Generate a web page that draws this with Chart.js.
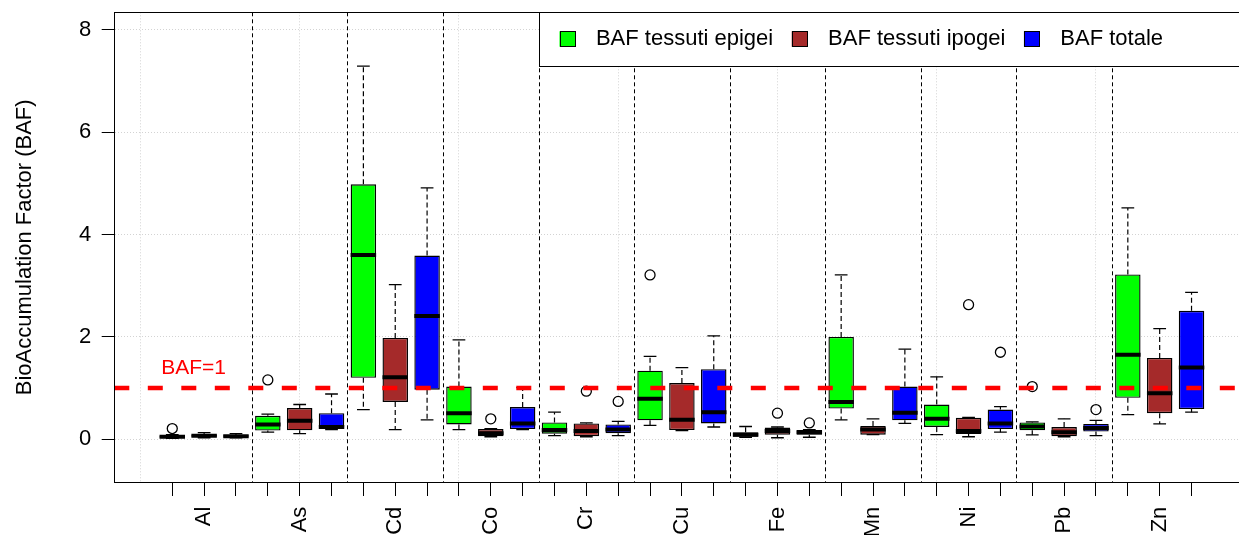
<!DOCTYPE html>
<html>
<head>
<meta charset="utf-8">
<script src="https://cdn.jsdelivr.net/npm/chart.js@4.4.1/dist/chart.umd.min.js"></script>
<style>
  html, body { margin: 0; padding: 0; background: #fff; overflow: hidden; width: 1239px; height: 535px; }
  #wrap { position: relative; width: 1260px; height: 535px; }
</style>
</head>
<body>
<div id="wrap"><canvas id="c" width="1260" height="535"></canvas></div>
<script>
// Metals analysed
const ELEMENTS = ['Al', 'As', 'Cd', 'Co', 'Cr', 'Cu', 'Fe', 'Mn', 'Ni', 'Pb', 'Zn'];
const SERIES_LABELS = ['BAF tessuti epigei', 'BAF tessuti ipogei', 'BAF totale'];
const SERIES_COLORS = ['#00FF00', '#A52A2A', '#0000FF'];

// Five-number summaries per metal: [lower whisker, Q1, median, Q3, upper whisker]
const EPIGEI = [
  [0.02, 0.03, 0.05, 0.07, 0.09],
  [0.14, 0.17, 0.29, 0.46, 0.49],
  [0.58, 1.20, 3.60, 4.98, 7.29],
  [0.19, 0.29, 0.51, 1.03, 1.94],
  [0.07, 0.11, 0.18, 0.33, 0.53],
  [0.27, 0.37, 0.79, 1.34, 1.62],
  [0.04, 0.05, 0.09, 0.14, 0.25],
  [0.38, 0.60, 0.73, 2.00, 3.21],
  [0.09, 0.24, 0.40, 0.68, 1.22],
  [0.085, 0.175, 0.25, 0.33, 0.34],
  [0.48, 0.81, 1.65, 3.22, 4.52]
];
const IPOGEI = [
  [0.03, 0.05, 0.07, 0.09, 0.13],
  [0.11, 0.175, 0.36, 0.61, 0.68],
  [0.19, 0.73, 1.21, 1.98, 3.02],
  [0.05, 0.06, 0.12, 0.20, 0.21],
  [0.05, 0.06, 0.16, 0.31, 0.32],
  [0.17, 0.18, 0.38, 1.10, 1.40],
  [0.03, 0.09, 0.16, 0.23, 0.24],
  [0.09, 0.09, 0.19, 0.26, 0.40],
  [0.05, 0.105, 0.16, 0.42, 0.43],
  [0.05, 0.06, 0.14, 0.24, 0.40],
  [0.30, 0.51, 0.90, 1.59, 2.16]
];
const TOTALE = [
  [0.03, 0.05, 0.06, 0.08, 0.11],
  [0.19, 0.23, 0.24, 0.51, 0.885],
  [0.38, 0.97, 2.41, 3.59, 4.91],
  [0.19, 0.20, 0.31, 0.63, 1.01],
  [0.07, 0.12, 0.19, 0.29, 0.35],
  [0.24, 0.31, 0.53, 1.37, 2.02],
  [0.04, 0.09, 0.14, 0.18, 0.19],
  [0.31, 0.37, 0.52, 1.03, 1.76],
  [0.14, 0.20, 0.31, 0.58, 0.64],
  [0.07, 0.15, 0.22, 0.30, 0.37],
  [0.53, 0.59, 1.40, 2.51, 2.87]
];

// Outlying observations per metal
const OUT_EPIGEI = [[0.21], [1.16], [], [], [], [3.21], [], [], [], [1.03], []];
const OUT_IPOGEI = [[], [], [], [0.40], [0.94], [], [0.51], [], [2.63], [], []];
const OUT_TOTALE = [[], [], [], [], [0.74], [], [0.32], [], [1.70], [0.58], []];

const Y_TICKS = [0, 2, 4, 6, 8];
const Y_LIMITS = [-0.5, 8];
const THRESHOLD = 1;
const THRESHOLD_TEXT = 'BAF=1';
const THRESHOLD_TEXT_AT = [1.67, 1.39];
const Y_TITLE = 'BioAccumulation Factor (BAF)';

// ---- derived layout helpers ----
const SUMMARIES = [EPIGEI, IPOGEI, TOTALE];
const OUTLIERS = [OUT_EPIGEI, OUT_IPOGEI, OUT_TOTALE];
const NS = SUMMARIES.length;
const NBOX = ELEMENTS.length * NS;
const pos = (g, s) => g * NS + s + 1;
// axes extended by 4% beyond the limits, like base R graphics
const X_MIN = 0.5 - 0.04 * NBOX;
const X_MAX = NBOX + 0.5 + 0.04 * NBOX;
const Y_SPAN = Y_LIMITS[1] - Y_LIMITS[0];
const Y_MIN = Y_LIMITS[0] - 0.04 * Y_SPAN;
const Y_MAX = Y_LIMITS[1] + 0.04 * Y_SPAN;
const BOX_HALF = 0.4;
const STAPLE_HALF = 0.2;

const FONT_FAMILY = '"Liberation Sans", Arial, Helvetica, sans-serif';
const TEXT_SIZE = 22;
Chart.defaults.font.family = FONT_FAMILY;
Chart.defaults.color = '#000';

const X_TICK_VALUES = [];
for (let v = 0; v <= NBOX; v++) X_TICK_VALUES.push(v);

function xLabel(v) {
  for (let g = 0; g < ELEMENTS.length; g++) if (pos(g, 1) === v) return ELEMENTS[g];
  return '';
}

// boxes
const boxSets = SUMMARIES.map((rows, s) => ({
  type: 'bar',
  label: SERIES_LABELS[s],
  data: rows.map((r, g) => ({ x: pos(g, s), y: [r[1], r[3]] })),
  backgroundColor: SERIES_COLORS[s],
  borderColor: '#000',
  borderWidth: 1.4,
  borderSkipped: false,
  grouped: false,
  barPercentage: 2 * BOX_HALF,
  categoryPercentage: 1,
  order: 5
}));

const whiskerPts = [], staplePts = [], medianPts = [], outlierPts = [];
ELEMENTS.forEach((el, g) => {
  SUMMARIES.forEach((rows, s) => {
    const r = rows[g];
    const x = pos(g, s);
    whiskerPts.push({ x, y: r[3] }, { x, y: r[4] }, { x, y: null },
                    { x, y: r[1] }, { x, y: r[0] }, { x, y: null });
    staplePts.push({ x: x - STAPLE_HALF, y: r[4] }, { x: x + STAPLE_HALF, y: r[4] }, { x, y: null },
                   { x: x - STAPLE_HALF, y: r[0] }, { x: x + STAPLE_HALF, y: r[0] }, { x, y: null });
    medianPts.push({ x: x - BOX_HALF, y: r[2] }, { x: x + BOX_HALF, y: r[2] }, { x, y: null });
    OUTLIERS[s][g].forEach(v => outlierPts.push({ x, y: v }));
  });
});

const lineBase = { type: 'line', pointRadius: 0, borderColor: '#000', fill: false, spanGaps: false, tension: 0 };

const datasets = [
  ...boxSets,
  Object.assign({}, lineBase, { label: 'whiskers', data: whiskerPts, borderWidth: 1.2, borderDash: [5, 3], order: 4 }),
  Object.assign({}, lineBase, { label: 'staples', data: staplePts, borderWidth: 1.3, order: 4 }),
  Object.assign({}, lineBase, { label: 'medians', data: medianPts, borderWidth: 4, borderCapStyle: 'butt', order: 3 }),
  { type: 'scatter', label: 'outliers', data: outlierPts, pointStyle: 'circle', pointRadius: 5,
    pointBackgroundColor: 'rgba(0,0,0,0)', pointBorderColor: '#000', pointBorderWidth: 1.3, order: 2 },
  Object.assign({}, lineBase, { label: 'threshold', data: [{ x: X_MIN, y: THRESHOLD }, { x: X_MAX, y: THRESHOLD }],
    borderColor: '#FF0000', borderWidth: 4.5, borderDash: [15, 18.5], borderCapStyle: 'butt', order: 1 })
];

// group separators, threshold label, plot frame and legend
const decorations = {
  id: 'decorations',
  beforeDatasetsDraw(chart) {
    const { ctx, chartArea: a, scales: { x } } = chart;
    ctx.save();
    ctx.beginPath();
    ctx.rect(a.left, a.top, a.right - a.left, a.bottom - a.top);
    ctx.clip();
    ctx.strokeStyle = '#000';
    ctx.lineWidth = 1;
    ctx.setLineDash([4, 3]);
    for (let g = 1; g < ELEMENTS.length; g++) {
      const px = Math.round(x.getPixelForValue(g * NS + 0.5)) + 0.5;
      ctx.beginPath();
      ctx.moveTo(px, a.top);
      ctx.lineTo(px, a.bottom);
      ctx.stroke();
    }
    ctx.restore();
  },
  afterDatasetsDraw(chart) {
    const { ctx, scales: { x, y } } = chart;
    ctx.save();
    ctx.fillStyle = '#FF0000';
    ctx.font = '21px ' + FONT_FAMILY;
    ctx.textAlign = 'center';
    ctx.textBaseline = 'middle';
    ctx.fillText(THRESHOLD_TEXT, x.getPixelForValue(THRESHOLD_TEXT_AT[0]), y.getPixelForValue(THRESHOLD_TEXT_AT[1]));
    ctx.restore();
  },
  afterDraw(chart) {
    const { ctx, chartArea: a } = chart;
    ctx.save();
    ctx.strokeStyle = '#000';
    ctx.lineWidth = 1;
    ctx.strokeRect(Math.round(a.left) + 0.5, Math.round(a.top) + 0.5,
                   Math.round(a.right - a.left), Math.round(a.bottom - a.top));
    // legend box in the top-right corner of the plot
    const L = { left: 539, top: Math.round(a.top), bottom: 66, right: Math.round(a.right) };
    ctx.fillStyle = '#fff';
    ctx.fillRect(L.left, L.top, L.right - L.left, L.bottom - L.top);
    ctx.strokeRect(L.left + 0.5, L.top + 0.5, L.right - L.left, L.bottom - L.top);
    ctx.font = TEXT_SIZE + 'px ' + FONT_FAMILY;
    ctx.textAlign = 'left';
    ctx.textBaseline = 'middle';
    const cy = 39, sq = 15.5;
    let xx = 559.5;
    SERIES_LABELS.forEach((lab, s) => {
      ctx.fillStyle = SERIES_COLORS[s];
      ctx.fillRect(xx, cy - sq / 2, sq, sq);
      ctx.strokeRect(Math.round(xx) + 0.5, Math.round(cy - sq / 2) + 0.5, Math.round(sq) - 1, Math.round(sq) - 1);
      ctx.fillStyle = '#000';
      ctx.fillText(lab, xx + 36.4, cy);
      xx += 36.4 + ctx.measureText(lab).width + 18.5;
    });
    ctx.restore();
  }
};

new Chart(document.getElementById('c'), {
  type: 'bar',
  data: { datasets },
  plugins: [decorations],
  options: {
    responsive: false,
    animation: false,
    devicePixelRatio: 1,
    layout: { padding: { top: 12.3, right: 10.5, left: 0, bottom: 0 } },
    plugins: { legend: { display: false }, tooltip: { enabled: false } },
    scales: {
      x: {
        type: 'linear',
        min: X_MIN,
        max: X_MAX,
        bounds: 'data',
        offset: false,
        grid: {
          offset: false,
          lineWidth: 1,
          color: c => (c.tick && c.tick.value % 5 === 0) ? '#D3D3D3' : 'rgba(0,0,0,0)',
          tickColor: c => (c.tick && c.tick.value >= 1) ? '#000' : 'rgba(0,0,0,0)',
          tickLength: 13.7,
          tickWidth: 1,
          tickBorderDash: []
        },
        border: { display: true, color: '#000', width: 1, dash: [1, 2] },
        afterBuildTicks: s => { s.ticks = X_TICK_VALUES.map(v => ({ value: v })); },
        afterFit: s => { s.height = 52.7; s.paddingLeft = 0; s.paddingRight = 0; },
        ticks: {
          autoSkip: false,
          maxRotation: 90,
          minRotation: 90,
          padding: 10.7,
          color: '#000',
          font: { size: TEXT_SIZE },
          callback: v => xLabel(v)
        }
      },
      y: {
        type: 'linear',
        min: Y_MIN,
        max: Y_MAX,
        bounds: 'data',
        grid: { color: '#D3D3D3', tickColor: '#000', lineWidth: 1, tickLength: 12.6, tickWidth: 1, tickBorderDash: [] },
        border: { display: true, color: '#000', width: 1, dash: [1, 2] },
        afterBuildTicks: s => { s.ticks = Y_TICKS.map(v => ({ value: v })); },
        afterFit: s => { s.width = 114.3; s.paddingTop = 0; s.paddingBottom = 0; },
        ticks: { padding: 10.5, color: '#000', font: { size: TEXT_SIZE }, callback: v => String(v) },
        title: { display: true, text: Y_TITLE, color: '#000', font: { size: TEXT_SIZE }, padding: { top: 12, bottom: 0 } }
      }
    }
  }
});
</script>
</body>
</html>
